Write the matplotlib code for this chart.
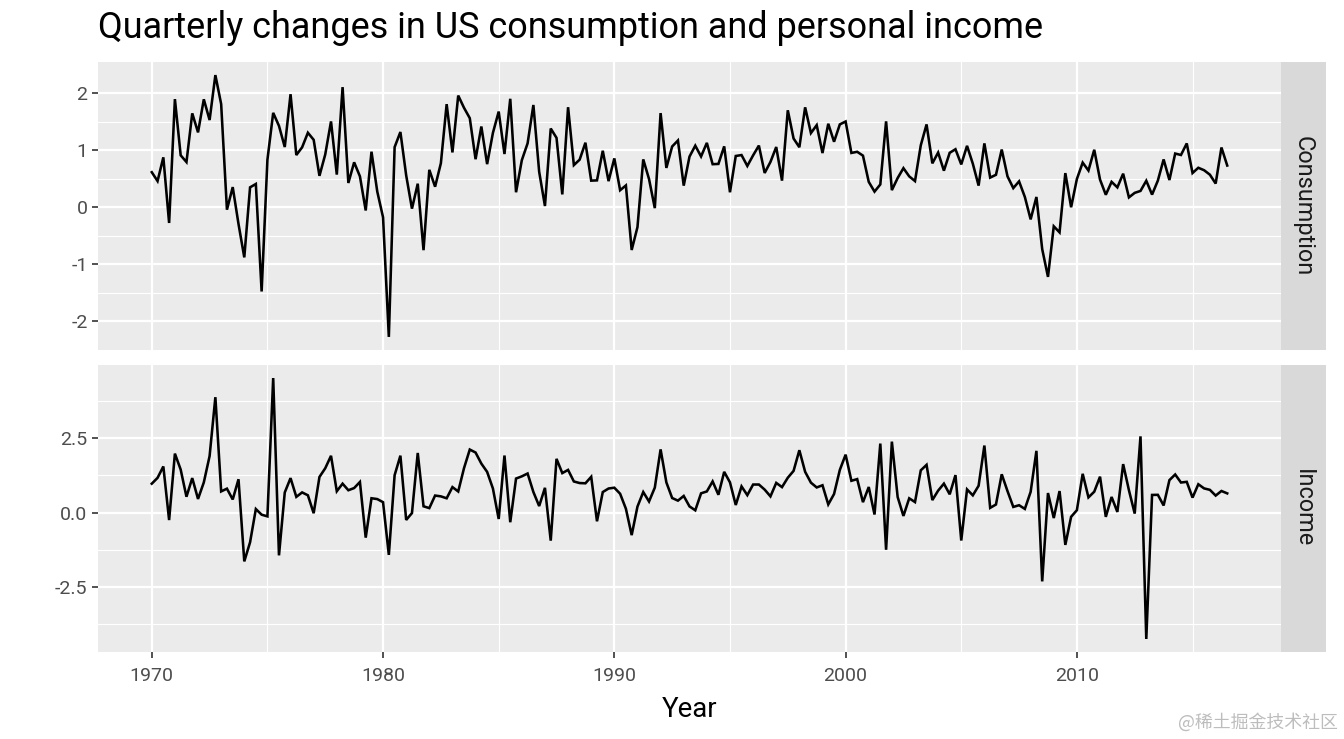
import matplotlib
matplotlib.use("Agg")
import matplotlib.pyplot as plt
import numpy as np
import pandas as pd

plt.rcParams['font.family'] = ['Roboto', 'DejaVu Sans']
plt.rcParams['axes.unicode_minus'] = False

# ---------------- data (us change, quarterly, from 1970 Q1) ----------------
start_quarter = "1970Q1"

consumption = [
    0.6159862, 0.4603757, 0.8767914, -0.2742451, 1.8973466, 0.9119210, 0.7939013, 1.6480502, 1.3140931, 1.8942741,
    1.5306443, 2.3186853, 1.8105922, -0.0417937, 0.3547731, -0.2913613, -0.8777074, 0.3505502, 0.4093888, -1.4754506,
    0.8328000, 1.6567709, 1.4281286, 1.0572012, 1.9835013, 0.9166843, 1.0522060, 1.3078393, 1.1839094, 0.5521700,
    0.9267016, 1.5064447, 0.5738016, 2.1074932, 0.4268706, 0.7894003, 0.5432245, -0.0554626, 0.9755430,
    0.2757716, -0.1756961, -2.2720083, 1.0554117, 1.3208547, 0.5604339, -0.0232998, 0.4146613, -0.7513452, 0.6578106,
    0.3614064, 0.7733393, 1.8094547, 0.9624939, 1.9598853, 1.7453089, 1.5632282, 0.8435098, 1.4173043, 0.7572007,
    1.3049866, 1.6790843, 0.9344618, 1.9032287, 0.2641066, 0.8261208, 1.1223555, 1.7947434, 0.6243236, 0.0226066,
    1.3817917, 1.2185427, 0.2265489, 1.7558656, 0.7404023, 0.8358829, 1.1333054, 0.4679093, 0.4725612, 0.9921839,
    0.4589869, 0.8581102, 0.3000408, 0.3835418, -0.7481215, -0.3474051, 0.8409127, 0.4963604, -0.0141124, 1.6524838,
    0.6911813, 1.0669047, 1.1721101, 0.3804233, 0.8894876, 1.0811447, 0.8915209, 1.1302698, 0.7563826, 0.7612508,
    1.0691935, 0.2641093, 0.9003689, 0.9165223, 0.7256271, 0.9112574, 1.0828924, 0.6025519, 0.7958587, 1.0576555,
    0.4679305, 1.7021066, 1.2065628, 1.0538891, 1.7536082, 1.3020014, 1.4410043, 0.9516108, 1.4657225, 1.1498880,
    1.4541893, 1.5046316, 0.9537050, 0.9738946, 0.9062960, 0.4464211, 0.2755823, 0.4013418, 1.5076773, 0.3016006,
    0.5138013, 0.6868008, 0.5428011, 0.4604998, 1.0878768, 1.4540412, 0.7710962, 0.9602012, 0.6425919, 0.9562573,
    1.0184048, 0.7524037, 1.0785066, 0.7651993, 0.3806133, 1.1212968, 0.5214034, 0.5703965, 1.0135017, 0.5424973,
    0.3372976, 0.4553050, 0.1814124, -0.2115003, 0.1816032, -0.7326977, -1.2195089, -0.3325955, -0.4386978, 0.6000915,
    0.0011020, 0.4969998, 0.7839014, 0.6453973, 1.0094915, 0.4865007, 0.2203999, 0.4467974, 0.3500003, 0.5899021,
    0.1745990, 0.2537999, 0.2877991, 0.4658018, 0.2231997, 0.4683027, 0.8398988, 0.4789008, 0.9428984, 0.9178012,
    1.1205039, 0.6015012, 0.6936986, 0.6504998, 0.5726005, 0.4169994, 1.0494026, 0.7328014,
]

income = [
    0.9722610, 1.1690847, 1.5532705, -0.2552724, 1.9871536, 1.4473902, 0.5317067, 1.1606827, 0.4570216, 1.0154836,
    1.9036573, 3.8902640, 0.7118637, 0.8046061, 0.4401221, 1.1221675, -1.6493209, -1.0044457, 0.1167693, -0.0734530,
    -0.1303232, 4.5357138, -1.4460212, 0.6755543, 1.1604487, 0.5279036, 0.6776296, 0.5808109, -0.0248580, 1.1990839,
    1.4922270, 1.9131286, 0.7178089, 0.9725932, 0.7510389, 0.8247700, 1.0297880, -0.8479340, 0.4809210, 0.4527750,
    0.3473620, -1.4297290, 1.2576720, 1.9175790, -0.2506020, -0.0194740, 2.0088840, 0.2092890, 0.1483620, 0.5720700,
    0.5442660, 0.4798090, 0.8574580, 0.7097400, 1.4950870, 2.1234810, 2.0234140, 1.6500000, 1.3700000, 0.8100000,
    -0.2190010, 1.9224870, -0.3281190, 1.1454670, 1.2200010, 1.3152420, 0.6912500, 0.2173300, 0.8329700,
    -0.9493950, 1.8098890, 1.3294620, 1.4367060, 1.0468920, 0.9936360, 0.9854250, 1.2038460, -0.2964700, 0.6896000,
    0.8094300, 0.8362800, 0.6329700, 0.1271400, -0.7631600, 0.1988700, 0.6902700, 0.3713400, 0.8396800, 2.1296700,
    1.0152900, 0.4887200, 0.4002800, 0.5582800, 0.2054300, 0.0747300, 0.6468600, 0.7110200, 1.0487900, 0.5979900,
    1.3717700, 1.0165200, 0.2531600, 0.8805400, 0.5855000, 0.9434100, 0.9438300, 0.7719400, 0.5440900, 0.9989700,
    0.8564900, 1.1723900, 1.4040200, 2.1014100, 1.3722300, 1.0069900, 0.8449800, 0.9191500, 0.2726100, 0.6237600,
    1.4366200, 1.9516800, 1.0698800, 1.1266100, 0.3483600, 0.8601900, -0.0686000, 2.3252300, -1.2568100, 2.3910000,
    0.5215600, -0.1155400, 0.4787800, 0.3520000, 1.4225100, 1.6071500, 0.4188700, 0.7376300, 0.9742500, 0.6137500,
    1.2613100, -0.9453900, 0.7783800, 0.5788600, 0.9020300, 2.2590500, 0.1565900, 0.2693700, 1.2896200, 0.7206900,
    0.1880900, 0.2454800, 0.1215400, 0.6959900, 2.0799000, -2.3237400, 0.6571700, -0.1869200, 0.7234200, -1.0929100,
    -0.1454600, 0.0795600, 1.3057200, 0.5102600, 0.7013700, 1.2085300, -0.1471600, 0.5240600, 0.0189300, 1.6323100,
    0.7513400, -0.0366100, 2.5690000, -4.2655400, 0.5925500, 0.5968400, 0.2371600, 1.0916400, 1.2827900, 1.0113700,
    1.0343700, 0.5024100, 0.9529600, 0.8129200, 0.7644600, 0.5707600, 0.7259700, 0.6451300,
]

if len(consumption) != len(income):
    raise ValueError(f"length mismatch: consumption {len(consumption)} income {len(income)}")

panel_names = ["Consumption", "Income"]
x_ticks = [1970, 1980, 1990, 2000, 2010]
x_tick_labels = ["1970", "1980", "1990", "2000", "2010"]
x_minor = [1975, 1985, 1995, 2005, 2015]
top_yticks = [-2, -1, 0, 1, 2]
top_ylabels = ["-2", "-1", "0", "1", "2"]
top_yminor = [-1.5, -0.5, 0.5, 1.5]
bot_yticks = [-2.5, 0.0, 2.5]
bot_ylabels = ["-2.5", "0.0", "2.5"]
bot_yminor = [-3.75, -1.25, 1.25, 3.75]
title = "Quarterly changes in US consumption and personal income"
xlabel = "Year"
watermark = "@稀土掘金技术社区"

periods = pd.period_range(start_quarter, periods=len(consumption), freq="Q")
years = periods.year.values + (periods.quarter.values - 1) / 4.0

# ---------------- figure ----------------
W, H = 1344, 739
fig = plt.figure(figsize=(W / 100, H / 100), dpi=100)

def fx(px):
    return px / W

def fy(py):
    return 1 - py / H

left, right = 98, 1281
strip_r = 1326
top1, bot1 = 62, 350
top2, bot2 = 365, 652

ax1 = fig.add_axes([fx(left), fy(bot1), fx(right - left), (bot1 - top1) / H])
ax2 = fig.add_axes([fx(left), fy(bot2), fx(right - left), (bot2 - top2) / H])

panel_bg = "#EBEBEB"
for ax, series, yt, yl, ym in [(ax1, consumption, top_yticks, top_ylabels, top_yminor),
                               (ax2, income, bot_yticks, bot_ylabels, bot_yminor)]:
    ax.set_facecolor(panel_bg)
    ax.plot(years, series, color="black", lw=1.85, solid_joinstyle="miter")
    ax.margins(x=0.05, y=0.05)
    ax.set_xticks(x_ticks)
    ax.set_xticks(x_minor, minor=True)
    ax.set_yticks(yt)
    ax.set_yticklabels(yl)
    ax.set_yticks(ym, minor=True)
    ax.grid(which="major", color="white", lw=1.6)
    ax.grid(which="minor", color="white", lw=0.8)
    ax.set_axisbelow(True)
    for s in ax.spines.values():
        s.set_visible(False)
    ax.tick_params(which="major", length=4.0, width=1.2, color="#333333",
                   labelcolor="#4D4D4D", labelsize=14, pad=3.5)
    ax.tick_params(which="minor", length=0)

ax1.tick_params(axis="x", which="both", length=0, labelbottom=False)
ax2.set_xticklabels(x_tick_labels)
ax2.tick_params(axis="x", pad=7)

# strips
strip_texts = []
for (tp, bt), name in zip([(top1, bot1), (top2, bot2)], panel_names):
    sax = fig.add_axes([fx(right), fy(bt), fx(strip_r - right), (bt - tp) / H])
    sax.set_facecolor("#D9D9D9")
    sax.set_xticks([])
    sax.set_yticks([])
    for s in sax.spines.values():
        s.set_visible(False)
    t = sax.text(0.5, 0.5, name, rotation=-90, ha="center", va="center",
                 color="#1A1A1A", fontsize=15, transform=sax.transAxes)
    strip_texts.append(t)

t_title = fig.text(fx(98), fy(38), title, ha="left", va="baseline", color="black", fontsize=22)
t_xlab = fig.text(fx((left + right) / 2), fy(717), xlabel, ha="center", va="baseline",
                  color="black", fontsize=17)
t_wm = fig.text(fx(1338), fy(728), watermark, ha="right", va="baseline", color="#BDBDBD",
                fontsize=12, family=["Noto Sans CJK SC", "DejaVu Sans"])

# fit text sizes to the reference widths
fig.canvas.draw()
r = fig.canvas.get_renderer()

def fit(t, target, use_height=False):
    bb = t.get_window_extent(r)
    cur = bb.height if use_height else bb.width
    t.set_fontsize(t.get_fontsize() * target / cur)

fit(t_title, 945)
fit(t_xlab, 56)
fit(t_wm, 160)
fit(strip_texts[0], 140, use_height=True)
strip_texts[1].set_fontsize(strip_texts[0].get_fontsize())

fig.savefig("out.png", dpi=100, facecolor="white")
